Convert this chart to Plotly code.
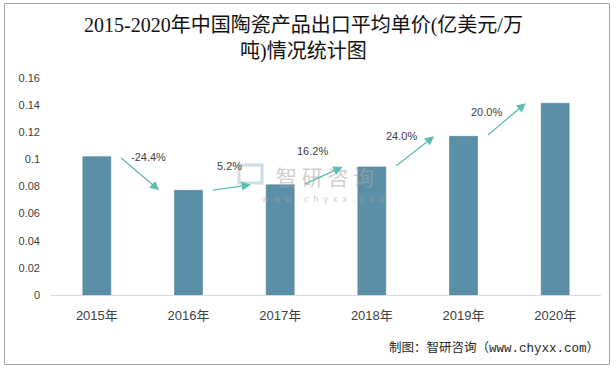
import plotly.graph_objects as go

# ---- data ----
years = ["2015年", "2016年", "2017年", "2018年", "2019年", "2020年"]
unit_price = [0.102, 0.0772, 0.0812, 0.0944, 0.117, 0.1414]
growth_labels = ["-24.4%", "5.2%", "16.2%", "24.0%", "20.0%"]
y_ticks = [0, 0.02, 0.04, 0.06, 0.08, 0.1, 0.12, 0.14, 0.16]
y_tick_text = ["0", "0.02", "0.04", "0.06", "0.08", "0.1", "0.12", "0.14", "0.16"]

title_line1 = "2015-2020年中国陶瓷产品出口平均单价(亿美元/万"
title_line2 = "吨)情况统计图"
footer = "制图：智研咨询（www.chyxx.com）"

# ---- layout constants ----
W, H = 616, 369
L, R, T, B = 51, 15, 78, 74
PW, PH = W - L - R, H - T - B

def xp(px):
    return (px - L) / PW

def yp(py):
    return (H - B - py) / PH

BAR = "#5B8FA7"
ARROW = "#5CBDB4"
SANS = "Liberation Sans, Noto Sans CJK SC, sans-serif"
TITLE_FONT = "Liberation Serif, Noto Sans CJK SC, serif"

fig = go.Figure()
fig.add_trace(go.Bar(
    x=years, y=unit_price,
    marker=dict(color=BAR, line=dict(color="#4F8299", width=0.6)),
    hoverinfo="skip",
))

annotations = []

# title
annotations.append(dict(x=xp(303.5), y=yp(26), xref="paper", yref="paper",
                        text=title_line1, showarrow=False, xanchor="center", yanchor="middle",
                        font=dict(family=TITLE_FONT, size=20, color="#111111")))
annotations.append(dict(x=xp(303.5), y=yp(51), xref="paper", yref="paper",
                        text=title_line2, showarrow=False, xanchor="center", yanchor="middle",
                        font=dict(family=TITLE_FONT, size=20, color="#111111")))

# watermark
annotations.append(dict(x=xp(325), y=yp(176), xref="paper", yref="paper",
                        text="智 研 咨 询", showarrow=False, opacity=0.55,
                        font=dict(family="Noto Sans CJK SC", size=21, color="#a8a8a8")))
annotations.append(dict(x=xp(324), y=yp(199), xref="paper", yref="paper",
                        text="w  w  w  .  c  h  y  x  x  .  c  o  m", showarrow=False, opacity=0.55,
                        font=dict(family=SANS, size=9, color="#a8a8a8")))

# growth arrows between bars
for i in range(len(growth_labels)):
    annotations.append(dict(
        x=i + 0.68, y=unit_price[i + 1], xref="x", yref="y",
        ax=i + 0.25, ay=unit_price[i], axref="x", ayref="y",
        text="", showarrow=True, arrowhead=2, arrowsize=1.4, arrowwidth=1.3,
        arrowcolor=ARROW, standoff=0, startstandoff=0,
    ))

# growth labels (positions in category/value units)
label_pos = [(0.564, 0.1016), (1.442, 0.095), (2.353, 0.1061), (3.329, 0.1171), (4.256, 0.1349)]
for (lx, ly), txt in zip(label_pos, growth_labels):
    annotations.append(dict(x=lx, y=ly, xref="x", yref="y", text=txt, showarrow=False,
                            font=dict(family=SANS, size=11, color="#404040")))

# footer
annotations.append(dict(x=xp(601), y=yp(348), xref="paper", yref="paper",
                        text=footer, showarrow=False, xanchor="right", yanchor="middle",
                        font=dict(family="Liberation Mono, Noto Sans CJK SC, monospace", size=12.5, color="#262626")))

shapes = [
    dict(type="rect", xref="paper", yref="paper",
         x0=xp(4.5), x1=xp(609.5), y0=yp(364.5), y1=yp(3.5),
         line=dict(color="#a6a6a6", width=1), fillcolor="rgba(0,0,0,0)", layer="below"),
    # watermark logo (approximation)
    dict(type="rect", xref="paper", yref="paper",
         x0=xp(239), x1=xp(262), y0=yp(183), y1=yp(165),
         line=dict(color="rgba(150,175,205,0.45)", width=3), fillcolor="rgba(0,0,0,0)"),
]

fig.update_layout(
    width=W, height=H,
    margin=dict(l=L, r=R, t=T, b=B, pad=0),
    paper_bgcolor="white", plot_bgcolor="white",
    showlegend=False,
    bargap=0.695,
    annotations=annotations,
    shapes=shapes,
    xaxis=dict(
        type="category", showline=True, linecolor="#d9d9d9", linewidth=1,
        showgrid=False, ticks="", ticklabelstandoff=8,
        tickfont=dict(family=SANS, size=13, color="#404040"),
        range=[-0.5, 5.5], fixedrange=True,
    ),
    yaxis=dict(
        range=[0, 0.16], tickvals=y_ticks, ticktext=y_tick_text,
        showgrid=False, zeroline=False, showline=False, ticks="",
        ticklabelstandoff=10,
        tickfont=dict(family=SANS, size=11, color="#404040"),
        fixedrange=True,
    ),
)

fig.write_html("out.html", config={"displayModeBar": False})

# remove the default page margin so the figure sits at the window's top-left corner
with open("out.html", "r", encoding="utf-8") as f:
    html = f.read()
html = html.replace("<body>", '<body style="margin:0;padding:0;">', 1)
with open("out.html", "w", encoding="utf-8") as f:
    f.write(html)
